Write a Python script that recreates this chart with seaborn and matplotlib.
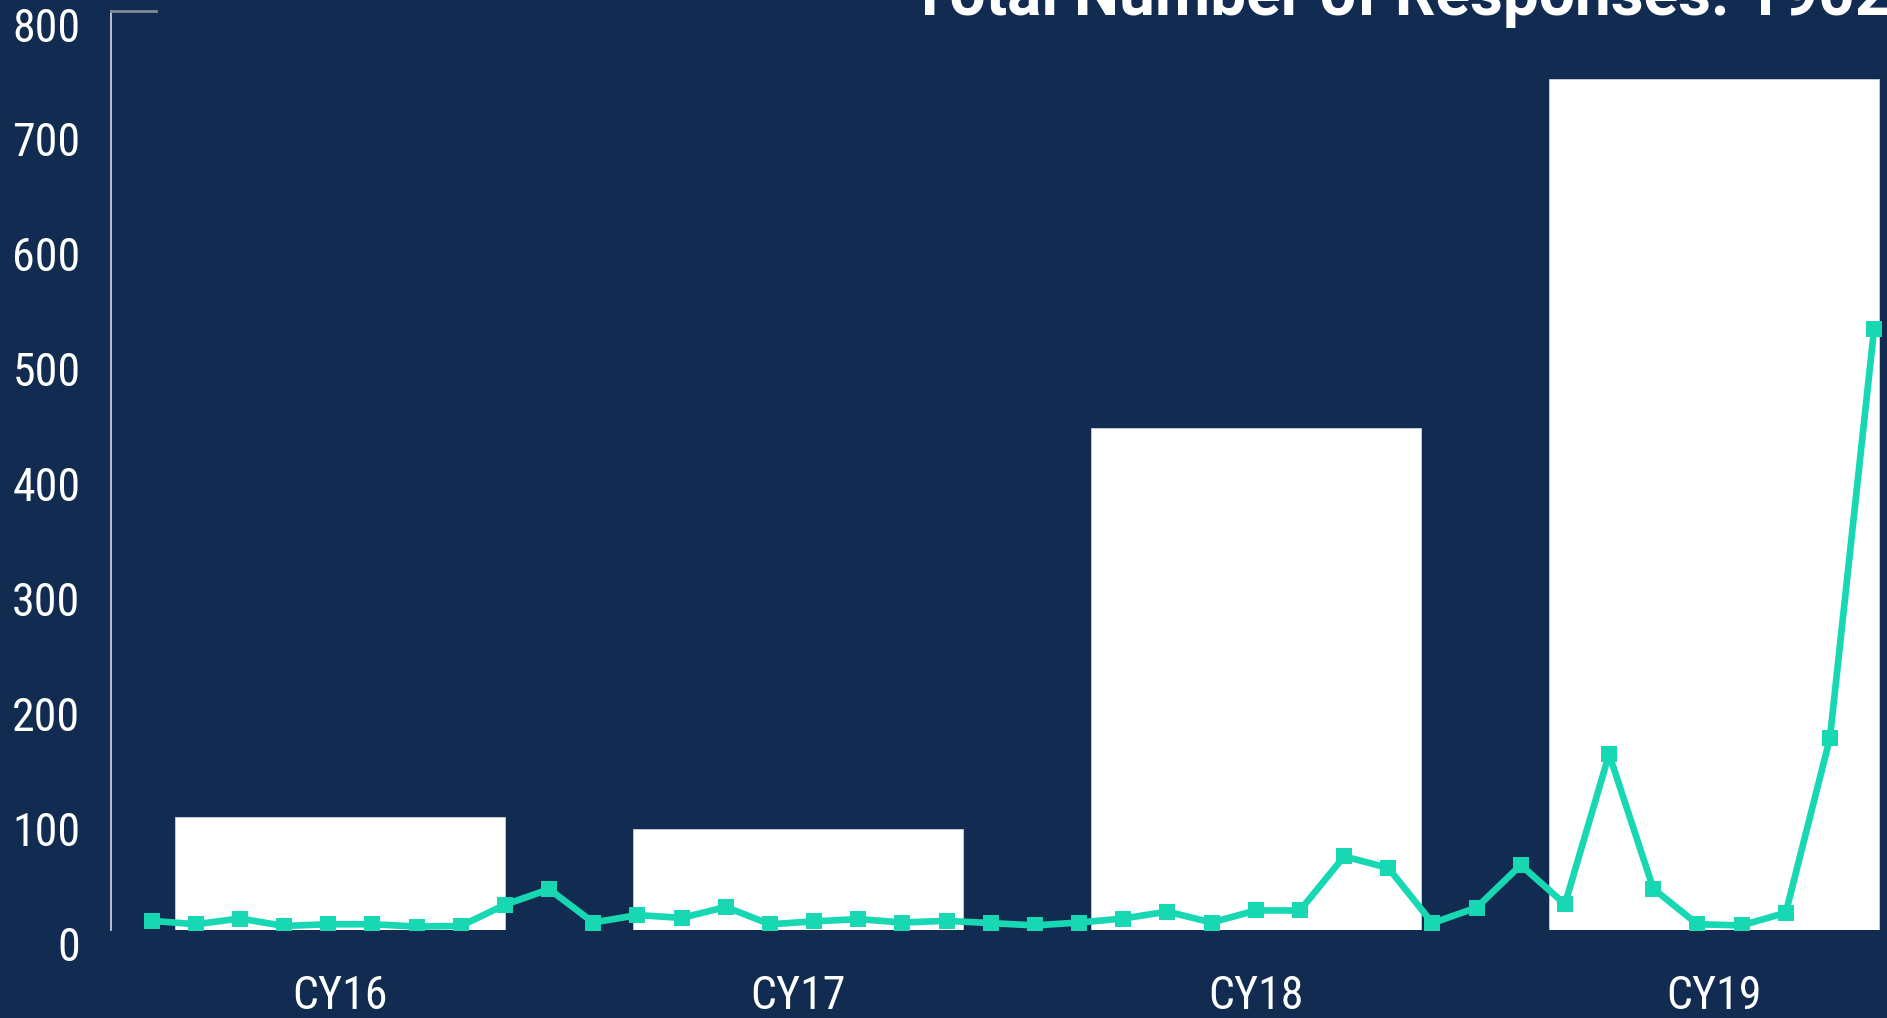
import matplotlib
matplotlib.use('Agg')
import matplotlib.pyplot as plt
import matplotlib.transforms as mtrans
import seaborn as sns
import pandas as pd
from matplotlib import font_manager

# yearly totals (bars)
years = ['CY16', 'CY17', 'CY18', 'CY19']
year_totals = [98.5, 87.5, 437, 740]

# responses per period (line)
period_counts = [8, 5, 10, 3.5, 5, 5, 3, 3.5, 22, 35.5,
                 6.5, 13, 10.5, 20, 5, 7.5, 9.5, 6.5, 8, 6,
                 4, 6.5, 10, 16, 6.5, 17, 17, 64, 54, 6,
                 19.5, 56.5, 22.5, 153, 36, 5, 4, 15, 167, 523]

y_ticks = [0, 100, 200, 300, 400, 500, 600, 700, 800]
title_text = 'Total Number of Responses: 1902'

bg = '#112c50'
teal = '#17d8b3'

names = {f.name for f in font_manager.fontManager.ttflist}
font = 'Roboto'
for cand in ['Roboto Condensed', 'Liberation Sans Narrow', 'Roboto']:
    if cand in names:
        font = cand
        break

sns.set_style('dark')
plt.rcParams['font.family'] = [font, 'DejaVu Sans']

bars = pd.DataFrame({'year': years, 'total': year_totals})
line = pd.DataFrame({'period': range(len(period_counts)), 'count': period_counts})

fig = plt.figure(figsize=(18.87, 10.18), dpi=100, facecolor=bg)
ax = fig.add_axes([111 / 1887, 88 / 1018, 1832 / 1887, 919.5 / 1018])
ax.set_facecolor(bg)

sns.barplot(data=bars, x='year', y='total', color='white', width=0.72,
            saturation=1, edgecolor='#c9d0da', linewidth=0.6, ax=ax)
ax.set_xlim(-0.5, 3.5)
ax.set_ylim(0, 800)
ax.set_yticks(y_ticks)
ax.set_xlabel('')
ax.set_ylabel('')
ax.grid(False)

ax.tick_params(axis='both', length=0, labelsize=33, labelcolor='white')
ax.tick_params(axis='y', pad=22)
ax.tick_params(axis='x', pad=32)
lift = mtrans.ScaledTranslation(0, 4 / 100, fig.dpi_scale_trans)
for lbl in ax.get_yticklabels():
    lbl.set_va('top')
    lbl.set_transform(lbl.get_transform() + lift)

for side in ['right', 'bottom']:
    ax.spines[side].set_visible(False)
ax.spines['left'].set_color('#d5d9e0')
ax.spines['left'].set_linewidth(1.2)
ax.spines['top'].set_color('#7f8a9a')
ax.spines['top'].set_linewidth(2)
ax.spines['top'].set_bounds(-0.5, -0.5 + 45 / 458)

ax2 = ax.twiny()
sns.lineplot(data=line, x='period', y='count', color=teal, linewidth=4.8,
             marker='s', markersize=11, markeredgewidth=0, ax=ax2)
ax2.set_xlim(-0.92, 40.56)
ax2.set_ylim(0, 800)
ax2.set_xticks([])
ax2.set_xlabel('')
ax2.set_ylabel('')
ax2.grid(False)
for side in ax2.spines:
    ax2.spines[side].set_visible(False)

fig.text(910 / 1887, 1 - 15 / 1018, title_text, color='white', fontsize=46,
         fontweight='bold', family=['Roboto', 'DejaVu Sans'],
         ha='left', va='baseline')

fig.savefig('out.png', dpi=100, facecolor=bg)
